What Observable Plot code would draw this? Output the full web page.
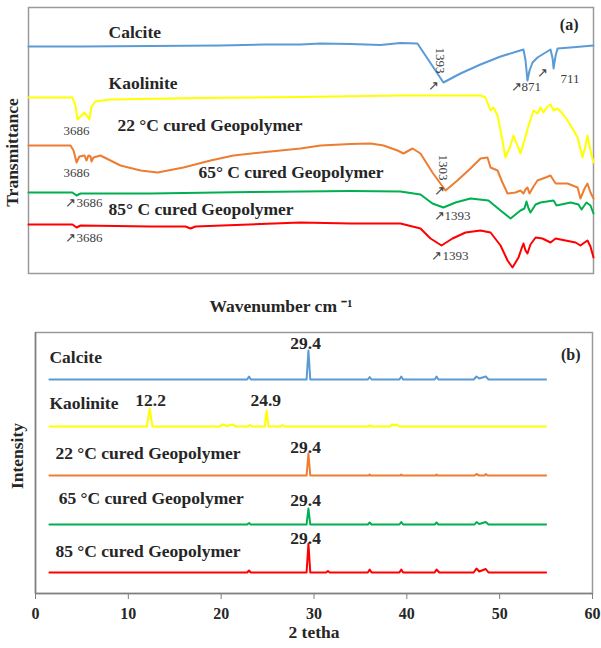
<!DOCTYPE html>
<html><head><meta charset="utf-8">
<script src="https://cdn.jsdelivr.net/npm/d3@7"></script>
<script src="https://cdn.jsdelivr.net/npm/@observablehq/plot@0.6"></script>
<style>
body{margin:0;background:#fff;}
#chart{width:601px;height:648px;position:relative;background:#fff;}
#chart svg{display:block;background:#fff;}
</style></head><body><div id="chart"></div>
<script>
// ---------- (a) FTIR: [wavenumber cm-1, transmittance (a.u., offset)] ----------
const ftirCalcite = [[4000,227],[3673,227],[3233,227.5],[2794,228],[2511,229],[2291,229],[2165,230],[1977,229.5],[1788,228.5],[1663,230.5],[1556,230],[1393,191],[1286,200],[1160,209],[1034,217],[890,224],[877,213],[865,193],[852,203],[833,211],[802,216],[751,221],[720,224],[707,215],[701,205],[688,218],[676,225],[594,226],[450,228]];
const ftirKaolinite = [[4000,176],[3724,176],[3705,168],[3692,154],[3673,157],[3648,161],[3629,157],[3617,154],[3604,167],[3579,172],[3485,174],[2919,175.5],[2291,176.5],[1663,178],[1160,178],[1129,176],[1097,163],[1078,166],[1053,158],[1034,143],[1003,116],[971,128],[953,138],[928,128],[909,120],[884,133],[858,148],[827,163],[802,160],[783,166],[764,161],[739,167],[720,169],[701,163],[676,165],[645,160],[613,153],[582,145],[550,136],[519,116],[500,128],[488,138],[469,123],[450,111]];
const ftirGeo22 = [[4000,128],[3736,128],[3717,123],[3698,111],[3680,117],[3648,118],[3636,113],[3623,118],[3610,117],[3604,112],[3592,116],[3548,118],[3422,108],[3296,103],[3189,101],[3026,106],[2856,113],[2712,118],[2479,122],[2291,125],[2165,128],[1977,129.5],[1850,130],[1769,128],[1681,123],[1644,120],[1587,125],[1537,120],[1462,101],[1380,83],[1305,93],[1223,105],[1160,115],[1116,116],[1097,106],[1053,103],[1022,91],[990,80],[940,81],[909,83],[890,80],[877,84],[865,86],[852,80],[827,87],[802,93],[751,96],[720,98],[688,90],[613,90],[550,86],[532,75],[506,85],[488,90],[469,81],[450,75]];
const ftirGeo65 = [[4000,81],[3724,81],[3698,78],[3673,80],[3233,80],[2605,81.5],[1977,82.5],[1663,82],[1537,79],[1462,70],[1393,66],[1317,71],[1223,75],[1110,73],[1034,63],[971,55],[909,63],[884,65],[871,72],[858,65],[846,61],[814,69],[783,71],[701,73],[682,68],[594,71],[544,69],[525,64],[494,71],[469,68],[450,60]];
const ftirGeo85 = [[4000,49],[3724,49],[3698,46],[3673,48],[3233,47],[3014,47],[2982,45],[2951,47],[2291,51],[1977,50],[1663,50],[1537,45],[1474,35],[1405,28],[1336,35],[1254,41],[1160,43],[1097,41],[1034,28],[990,13],[959,6],[921,16],[902,25],[890,30],[877,23],[865,20],[846,29],[814,36],[771,35],[720,31],[688,35],[626,33],[563,31],[532,28],[506,31],[488,33],[469,27],[450,16]];

const ftirSeriesNames = ["Calcite","Kaolinite","22 °C cured Geopolymer","65° C cured Geopolymer","85° C cured Geopolymer"];
const ftirNameAnchors = [[3497,241],[3497,190],[3441,148],[2932,101],[3497,64]];
const ftirPeakNotes = [["3686",3780,143],["3686",3780,101],["↗3686",3768,71],["↗3686",3768,36],["↗",1487,188],["↗871",971,187],["↗",802,201],["711",657,195],["↗",1455,83],["↗1393",1455,58],["↗1393",1468,18]];
const ftirRotatedNotes = [["1393",1411,213],["1303",1393,106]];

// ---------- (b) XRD: [2θ, intensity (a.u., offset)] ----------
const xrdCalcite = [[1.5,214],[22.8,214],[23.0,217],[23.2,214],[29.2,214],[29.4,243],[29.6,214],[35.8,214],[36.0,216.5],[36.2,214],[39.2,214],[39.4,217],[39.6,214],[43.0,214],[43.2,217],[43.4,214],[47.2,214],[47.5,217],[47.8,215],[48.5,217],[48.8,214],[55,214]];
const xrdKaolinite = [[1.5,167],[12.0,167],[12.3,185],[12.6,167],[19.8,167],[20.2,169],[20.6,167.5],[21.2,169],[21.6,167],[22.9,167],[23.1,168.5],[23.3,167],[24.7,167],[24.9,183],[25.1,167],[26.4,167],[26.6,168.5],[26.8,167],[35.8,167],[36.0,168],[36.2,167],[38.2,167],[38.4,169],[38.7,168],[38.9,169],[39.2,167],[55,167]];
const xrdGeo22 = [[1.5,118],[29.2,118],[29.4,140],[29.6,118],[35.9,118],[36.0,119],[36.1,118],[39.3,118],[39.4,119],[39.5,118],[43.1,118],[43.2,119],[43.3,118],[47.3,118],[47.5,119.5],[47.8,118],[48.4,118],[48.5,119.5],[48.7,118],[55,118]];
const xrdGeo65 = [[1.5,69],[22.8,69],[23.0,70.5],[23.2,69],[29.2,69],[29.4,85],[29.6,69],[35.8,69],[36.0,71],[36.2,69],[39.2,69],[39.4,71.5],[39.6,69],[43.0,69],[43.2,71],[43.4,69],[47.3,69],[47.5,71.5],[47.8,69.5],[48.5,71.5],[48.8,69],[55,69]];
const xrdGeo85 = [[1.5,21],[22.8,21],[23.0,23],[23.2,21],[29.2,21],[29.4,50],[29.6,21],[31.3,21],[31.5,22.5],[31.7,21],[35.8,21],[36.0,24],[36.2,21],[39.2,21],[39.4,24],[39.6,21],[43.0,21],[43.2,24],[43.5,21],[47.2,21],[47.5,25],[47.8,22],[48.5,24.5],[48.8,21],[55,21]];

const xrdSeriesNames = ["Calcite","Kaolinite","22 °C cured Geopolymer","65 °C cured Geopolymer","85 °C cured Geopolymer"];
const xrdNameAnchors = [[1.5,236],[1.5,190],[2.15,140],[2.5,95],[2.15,42]];
const xrdPeakLabels = [["29.4",29.1,250],["12.2",12.4,193],["24.9",24.8,193],["29.4",29.1,146],["29.4",29.1,93],["29.4",29.1,55]];
const xrdTicks = [0,10,20,30,40,50,60];

const colors = ["#5b9bd5","#ffff00","#ed7d31","#00b050","#ff0000"];
const serif = "Liberation Serif, Times New Roman, serif";
const ink = "#262626";

const ftirSets = [ftirCalcite, ftirKaolinite, ftirGeo22, ftirGeo65, ftirGeo85];
const xrdSets = [xrdCalcite, xrdKaolinite, xrdGeo22, xrdGeo65, xrdGeo85];

const boldText = {fontFamily: serif, fontWeight: "bold", fontSize: 17.5, fill: ink};

const plotA = Plot.plot({
  width: 601, height: 330,
  marginLeft: 28, marginRight: 8, marginTop: 7, marginBottom: 57,
  x: {domain: [4000, 450], axis: null},
  y: {domain: [0, 266], axis: null},
  style: {background: "#fff", fontFamily: serif},
  marks: [
    Plot.frame({stroke: "#9a9a9a", strokeWidth: 1.5}),
    ...ftirSets.map((s, i) => Plot.line(s, {x: d => d[0], y: d => d[1], stroke: colors[i], strokeWidth: 2})),
    Plot.text(ftirSeriesNames.map((n, i) => ({n, x: ftirNameAnchors[i][0], y: ftirNameAnchors[i][1]})), {x: "x", y: "y", text: "n", textAnchor: "start", ...boldText}),
    Plot.text(["(a)"], {frameAnchor: "top-right", textAnchor: "end", dx: -15, dy: 11, ...boldText, fontSize: 16}),
    Plot.text(ftirPeakNotes, {x: d => d[1], y: d => d[2], text: d => d[0], textAnchor: "start", fontFamily: serif, fontSize: 13, fill: "#404040"}),
    Plot.text(ftirRotatedNotes, {x: d => d[1], y: d => d[2], text: d => d[0], rotate: 90, fontFamily: serif, fontSize: 13, fill: "#404040"}),
    Plot.text(["Transmittance"], {frameAnchor: "left", textAnchor: "middle", rotate: -90, dx: -16, dy: 12, ...boldText}),
    Plot.text(["Wavenumber cm ⁻¹"], {frameAnchor: "bottom", textAnchor: "middle", dx: -30, dy: 38, ...boldText})
  ]
});

const plotB = Plot.plot({
  width: 601, height: 318,
  marginLeft: 35, marginRight: 9, marginTop: 2, marginBottom: 55,
  x: {domain: [0, 60], axis: null},
  y: {domain: [0, 261], axis: null},
  style: {background: "#fff", fontFamily: serif},
  marks: [
    Plot.frame({stroke: "#9a9a9a", strokeWidth: 1.5}),
    Plot.ruleY([0], {stroke: "#7f7f7f", strokeWidth: 1.5}),
    Plot.ruleX([0], {stroke: "#7f7f7f", strokeWidth: 1.5}),
    Plot.axisX({ticks: xrdTicks, label: null, tickSize: 6, tickPadding: 8, stroke: "#7f7f7f", ...boldText, fontSize: 16}),
    ...xrdSets.map((s, i) => Plot.line(s, {x: d => d[0], y: d => d[1], stroke: colors[i], strokeWidth: 2})),
    Plot.text(xrdSeriesNames.map((n, i) => ({n, x: xrdNameAnchors[i][0], y: xrdNameAnchors[i][1]})), {x: "x", y: "y", text: "n", textAnchor: "start", ...boldText}),
    Plot.text(xrdPeakLabels, {x: d => d[1], y: d => d[2], text: d => d[0], ...boldText}),
    Plot.text(["(b)"], {frameAnchor: "top-right", textAnchor: "end", dx: -12, dy: 16, ...boldText, fontSize: 16}),
    Plot.text(["Intensity"], {frameAnchor: "left", textAnchor: "middle", rotate: -90, dx: -18, dy: -7, ...boldText}),
    Plot.text(["2 tetha"], {frameAnchor: "bottom", textAnchor: "middle", dy: 44.5, ...boldText})
  ]
});

const root = document.getElementById("chart");
root.appendChild(plotA);
root.appendChild(plotB);
</script></body></html>
